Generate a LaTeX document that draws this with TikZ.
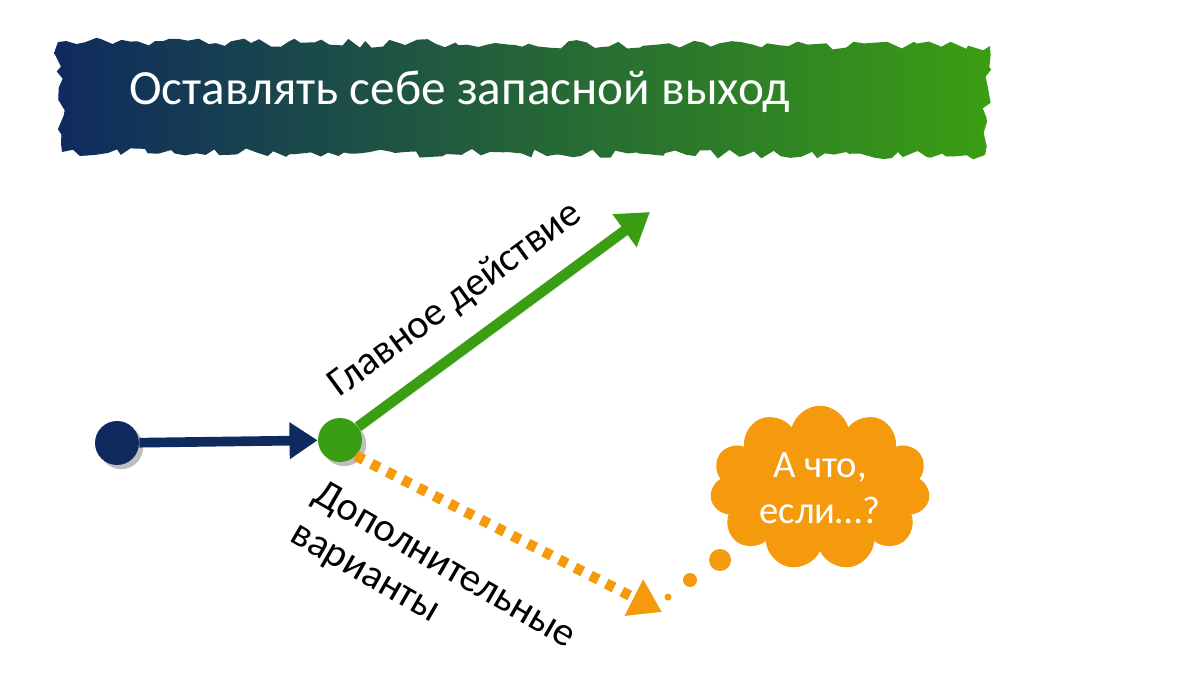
\documentclass[tikz,border=0pt]{standalone}
\usepackage{fontspec}
\setmainfont{Carlito}
\usetikzlibrary{shapes.symbols,arrows.meta,shadows,decorations.pathmorphing}
\definecolor{navy}{HTML}{0F2A5F}
\definecolor{grn}{HTML}{3A9E12}
\definecolor{org}{HTML}{F59A0C}
\tikzset{
 dotnode/.style={circle,fill=#1,minimum size=0.88cm,inner sep=0,drop shadow},
 lbl/.style={font=\fontsize{23}{26}\selectfont},
}
\begin{document}
\begin{tikzpicture}[x=0.02cm,y=-0.02cm]
\useasboundingbox[fill=white] (0,0) rectangle (1200,675);
% banner
\pgfmathsetseed{7}
\shade[left color=navy,right color=grn,shading angle=90,decorate,decoration={random steps,segment length=5pt,amplitude=2.5pt}]
 (58,42) -- (990,46) -- (985,155) -- (62,152) -- cycle;
\node[text=white,font=\fontsize{28}{32}\selectfont,anchor=west] (title) at (123,92) {Оставлять себе запасной выход};
% nodes
\node[dotnode=navy] (a) at (117,443) {};
\node[dotnode=grn] (b) at (340,440) {};
\coordinate (g) at (650,212);
\coordinate (o) at (662,612);
\draw[navy,line width=5.5pt,-{Triangle[length=16pt,width=20pt]},drop shadow] (a) -- (b);
\draw[grn,line width=6pt,-{Triangle[length=18pt,width=22pt]},drop shadow] (b) -- (g);
\draw[org,line width=6pt,dash pattern=on 5pt off 5pt,-{Triangle[length=18pt,width=22pt]}] (b.south east) -- (o);
\node[rotate=36.3,lbl,anchor=south west] (lg) at (342,412) {Главное действие};
\node[rotate=-30,lbl,align=left,anchor=north west] (lo) at (322,470) {Дополнительные\\варианты};
% cloud
\node[cloud,cloud puffs=11,aspect=1.45,fill=org,text=white,align=center,minimum width=4.4cm,minimum height=3cm,font=\fontsize{22}{26}\selectfont] (c) at (820,488) {А что,\\если…?};
\node[circle,fill=org,minimum size=0.44cm,inner sep=0] (d1) at (720,560) {};
\node[circle,fill=org,minimum size=0.28cm,inner sep=0] (d2) at (690,580) {};
\node[circle,fill=org,minimum size=0.14cm,inner sep=0] (d3) at (668,597) {};
\end{tikzpicture}
\end{document}
